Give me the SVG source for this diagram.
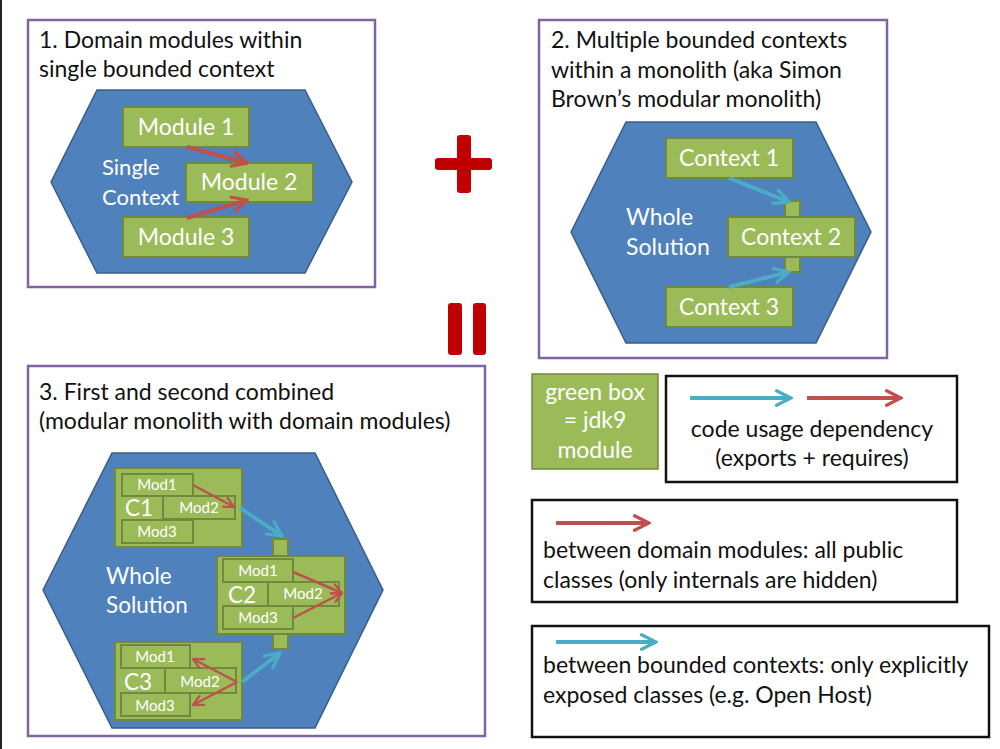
<svg xmlns="http://www.w3.org/2000/svg" width="1000" height="749" viewBox="0 0 1000 749">
<style>
text{font-family:Lato,"Open Sans","Liberation Sans",sans-serif}
.panel{fill:#fff;stroke:#8064A2;stroke-width:2.5}
.hex{fill:#4F81BD;stroke:#385D8A;stroke-width:1.5}
.g{fill:#9BBB59;stroke:#71893F;stroke-width:2}
.t{font-size:23px;fill:#111}
.w{fill:#fff;font-size:23px}
.ws{fill:#fff;font-size:22px}
.wm{fill:#fff;font-size:15px;text-anchor:middle}
.wl{fill:#fff;font-size:22.5px}
.c{text-anchor:middle}
.leg{fill:#fff;stroke:#111;stroke-width:2.5}
.red{stroke:#C0504D;stroke-width:4;fill:none;marker-end:url(#ar)}
.cy{stroke:#4BACC6;stroke-width:4;fill:none;marker-end:url(#ac)}
.reds{stroke:#C0504D;stroke-width:2.5;fill:none;marker-end:url(#ars)}
.sym{fill:#C00000}
</style>
<defs>
<marker id="ar" viewBox="0 0 10 10" refX="9" refY="5" markerWidth="4.5" markerHeight="4.5" orient="auto" markerUnits="strokeWidth"><path d="M1,1 L9,5 L1,9" fill="none" stroke="#C0504D" stroke-width="1.8" stroke-linecap="round"/></marker>
<marker id="ars" viewBox="0 0 10 10" refX="9" refY="5" markerWidth="5" markerHeight="5" orient="auto" markerUnits="strokeWidth"><path d="M1,1 L9,5 L1,9" fill="none" stroke="#C0504D" stroke-width="1.8" stroke-linecap="round"/></marker>
<marker id="ac" viewBox="0 0 10 10" refX="9" refY="5" markerWidth="4.5" markerHeight="4.5" orient="auto" markerUnits="strokeWidth"><path d="M1,1 L9,5 L1,9" fill="none" stroke="#4BACC6" stroke-width="1.8" stroke-linecap="round"/></marker>
</defs>
<rect x="0" y="0" width="1000" height="749" fill="#fff"/>
<rect x="0" y="0" width="2" height="749" fill="#222"/>

<g id="panel1">
<rect class="panel" x="28" y="20" width="347" height="267"/>
<text class="t" x="39" y="48">1. Domain modules within</text>
<text class="t" x="39" y="77">single bounded context</text>
<polygon class="hex" points="51,182 97,90 305,90 352,182 305,273 97,273"/>
<text class="ws" x="102" y="175">Single</text>
<text class="ws" x="102" y="205">Context</text>
</g>
<g id="module1"><rect class="g" x="123" y="107" width="126" height="40"/><text class="w c" x="186" y="135">Module 1</text></g>
<g id="module2"><rect class="g" x="186" y="163" width="127" height="39"/><text class="w c" x="249" y="190">Module 2</text></g>
<g id="module3"><rect class="g" x="123" y="217" width="126" height="40"/><text class="w c" x="186" y="245">Module 3</text></g>

<g id="plus" class="sym">
<rect x="457" y="135" width="14" height="58" rx="3"/>
<rect x="435" y="158" width="57" height="12" rx="3"/>
</g>
<g id="equals" class="sym">
<rect x="448" y="303" width="14" height="52" rx="3"/>
<rect x="473" y="303" width="13" height="52" rx="3"/>
</g>

<g id="panel2">
<rect class="panel" x="539" y="20" width="348" height="338"/>
<text class="t" x="551" y="48">2. Multiple bounded contexts</text>
<text class="t" x="551" y="78">within a monolith (aka Simon</text>
<text class="t" x="551" y="107">Brown’s modular monolith)</text>
<polygon class="hex" points="571,232 626,122 816,122 871,232 816,343 626,343"/>
<text class="w" x="626" y="225">Whole</text>
<text class="w" x="626" y="255">Solution</text>
</g>
<g id="context1"><rect class="g" x="666" y="138" width="127" height="40"/><text class="w c" x="729" y="166">Context 1</text></g>
<g id="context2">
<rect class="g" x="785" y="201" width="15" height="16"/>
<rect class="g" x="785" y="257" width="15" height="15"/>
<rect class="g" x="728" y="217" width="127" height="40"/><text class="w c" x="791" y="245">Context 2</text></g>
<g id="context3"><rect class="g" x="666" y="287" width="127" height="40"/><text class="w c" x="729" y="315">Context 3</text></g>

<g id="panel3">
<rect class="panel" x="28" y="366" width="457" height="370"/>
<text class="t" x="39" y="400">3. First and second combined</text>
<text class="t" x="39" y="429">(modular monolith with domain modules)</text>
<polygon class="hex" points="43,590 112,453 315,453 383,590 315,728 112,728"/>
<text class="wl" x="106" y="584">Whole</text>
<text class="wl" x="106" y="613">Solution</text>
</g>
<g id="c1">
<rect class="g" x="115" y="468" width="127" height="79"/>
<rect class="g" x="122" y="474" width="71" height="22"/><text class="wm" x="157" y="490">Mod1</text>
<rect class="g" x="163" y="496" width="72" height="23"/><text class="wm" x="199" y="513">Mod2</text>
<rect class="g" x="122" y="520" width="71" height="23"/><text class="wm" x="157" y="537">Mod3</text>
<text class="wl" x="125" y="516">C1</text>
</g>
<g id="c2">
<rect class="g" x="273" y="539" width="15" height="17"/>
<rect class="g" x="273" y="634" width="15" height="15"/>
<rect class="g" x="217" y="556" width="128" height="78"/>
<rect class="g" x="223" y="559" width="70" height="23"/><text class="wm" x="258" y="576">Mod1</text>
<rect class="g" x="268" y="582" width="71" height="24"/><text class="wm" x="303" y="599">Mod2</text>
<rect class="g" x="223" y="606" width="70" height="23"/><text class="wm" x="258" y="623">Mod3</text>
<text class="wl" x="228" y="603">C2</text>
</g>
<g id="c3">
<rect class="g" x="115" y="642" width="127" height="78"/>
<rect class="g" x="121" y="645" width="69" height="23"/><text class="wm" x="155" y="662">Mod1</text>
<rect class="g" x="165" y="668" width="71" height="25"/><text class="wm" x="200" y="687">Mod2</text>
<rect class="g" x="121" y="693" width="69" height="23"/><text class="wm" x="155" y="711">Mod3</text>
<text class="wl" x="124" y="690">C3</text>
</g>

<g id="connectors">
<line class="red" x1="187" y1="147" x2="247" y2="163"/>
<line class="red" x1="187" y1="218" x2="247" y2="200"/>
<line class="cy" x1="729" y1="178" x2="789" y2="202"/>
<line class="cy" x1="729" y1="287" x2="789" y2="272"/>
<line class="reds" x1="193" y1="485" x2="234" y2="507"/>
<line class="cy" x1="240" y1="508" x2="282" y2="536"/>
<line class="reds" x1="293" y1="572" x2="342" y2="593"/>
<line class="reds" x1="293" y1="618" x2="342" y2="593"/>
<line class="reds" x1="237" y1="682" x2="193" y2="659"/>
<line class="reds" x1="237" y1="682" x2="193" y2="705"/>
<line class="cy" x1="242" y1="682" x2="280" y2="653"/>
</g>

<g id="legend-green">
<rect x="532" y="374" width="126" height="95" fill="#9BBB59" stroke="#71893F" stroke-width="1.5"/>
<text class="w c" x="595" y="400">green box</text>
<text class="w c" x="595" y="428">= jdk9</text>
<text class="w c" x="595" y="458">module</text>
</g>
<g id="legend-usage">
<rect class="leg" x="666" y="376" width="291" height="106"/>
<line class="cy" x1="690" y1="398" x2="791" y2="398"/>
<line class="red" x1="807" y1="398" x2="901" y2="398"/>
<text class="t c" x="812" y="437">code usage dependency</text>
<text class="t c" x="812" y="466">(exports + requires)</text>
</g>
<g id="legend-domain">
<rect class="leg" x="532" y="500" width="425" height="102"/>
<line class="red" x1="556" y1="523" x2="649" y2="523"/>
<text class="t" x="543" y="558">between domain modules: all public</text>
<text class="t" x="543" y="588">classes (only internals are hidden)</text>
</g>
<g id="legend-bounded">
<rect class="leg" x="532" y="626" width="457" height="111"/>
<line class="cy" x1="556" y1="642" x2="656" y2="642"/>
<text class="t" x="543" y="673">between bounded contexts: only explicitly</text>
<text class="t" x="543" y="703">exposed classes (e.g. Open Host)</text>
</g>
</svg>
